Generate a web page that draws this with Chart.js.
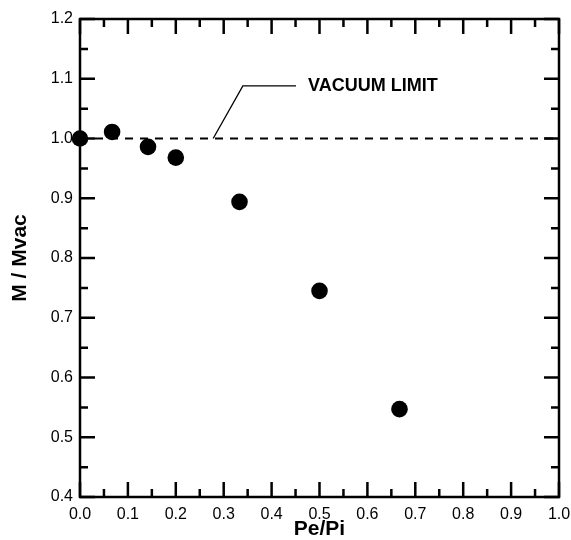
<!DOCTYPE html>
<html>
<head>
<meta charset="utf-8">
<script src="https://cdn.jsdelivr.net/npm/chart.js@4/dist/chart.umd.min.js"></script>
<style>
html,body{margin:0;padding:0;background:#fff;}
#wrap{width:571px;height:540px;}
</style>
</head>
<body>
<div id="wrap"><canvas id="c" width="571" height="540"></canvas></div>
<script>
// ---- data ----
const peOverPi = [0.0, 0.067, 0.142, 0.200, 0.333, 0.500, 0.667];
const mOverMvac = [1.000, 1.011, 0.986, 0.968, 0.894, 0.745, 0.547];
const vacuumLimitX = [0.0, 1.0];
const vacuumLimitY = [1.0, 1.0];
const leaderX = [0.278, 0.340, 0.451];
const leaderY = [1.000, 1.088, 1.088];
const annotationText = "VACUUM LIMIT";
const annotationPos = [0.476, 1.088];
const xTicks = [0.0, 0.1, 0.2, 0.3, 0.4, 0.5, 0.6, 0.7, 0.8, 0.9, 1.0];
const yTicks = [0.4, 0.5, 0.6, 0.7, 0.8, 0.9, 1.0, 1.1, 1.2];
const xMinorTicks = [0.05, 0.15, 0.25, 0.35, 0.45, 0.55, 0.65, 0.75, 0.85, 0.95];
const yMinorTicks = [0.45, 0.55, 0.65, 0.75, 0.85, 0.95, 1.05, 1.15];
const xTitle = "Pe/Pi";
const yTitle = "M / Mvac";

const FONT = "'Liberation Sans', Arial, Helvetica, sans-serif";

const toXY = (xs, ys) => xs.map((x, i) => ({x: x, y: ys[i]}));

const framePlugin = {
  id: 'frame',
  afterDraw(chart) {
    const ctx = chart.ctx;
    const a = chart.chartArea;
    const xs = chart.scales.x, ys = chart.scales.y;
    ctx.save();
    ctx.strokeStyle = '#000';
    ctx.lineWidth = 2.5;
    ctx.lineCap = 'butt';
    const MAJ = 15, MIN = 8;
    ctx.beginPath();
    xTicks.forEach(v => {
      const px = xs.getPixelForValue(v);
      ctx.moveTo(px, a.bottom); ctx.lineTo(px, a.bottom - MAJ);
      ctx.moveTo(px, a.top); ctx.lineTo(px, a.top + MAJ);
    });
    xMinorTicks.forEach(v => {
      const px = xs.getPixelForValue(v);
      ctx.moveTo(px, a.bottom); ctx.lineTo(px, a.bottom - MIN);
      ctx.moveTo(px, a.top); ctx.lineTo(px, a.top + MIN);
    });
    yTicks.forEach(v => {
      const py = ys.getPixelForValue(v);
      ctx.moveTo(a.left, py); ctx.lineTo(a.left + MAJ, py);
      ctx.moveTo(a.right, py); ctx.lineTo(a.right - MAJ, py);
    });
    yMinorTicks.forEach(v => {
      const py = ys.getPixelForValue(v);
      ctx.moveTo(a.left, py); ctx.lineTo(a.left + MIN, py);
      ctx.moveTo(a.right, py); ctx.lineTo(a.right - MIN, py);
    });
    ctx.stroke();
    ctx.strokeRect(a.left, a.top, a.right - a.left, a.bottom - a.top);
    // annotation text
    ctx.fillStyle = '#000';
    ctx.font = "bold 18px " + FONT;
    ctx.textAlign = 'left';
    ctx.textBaseline = 'middle';
    ctx.fillText(annotationText, xs.getPixelForValue(annotationPos[0]), ys.getPixelForValue(annotationPos[1]));
    ctx.restore();
  }
};

new Chart(document.getElementById('c'), {
  type: 'scatter',
  data: {
    datasets: [
      {
        label: 'vacuum limit',
        data: toXY(vacuumLimitX, vacuumLimitY),
        showLine: true,
        borderColor: '#000',
        borderWidth: 2,
        borderDash: [8, 7],
        pointRadius: 0,
        clip: false,
        order: 3
      },
      {
        label: 'leader',
        data: toXY(leaderX, leaderY),
        showLine: true,
        borderColor: '#000',
        borderWidth: 1.3,
        pointRadius: 0,
        tension: 0,
        clip: false,
        order: 2
      },
      {
        label: 'M/Mvac',
        data: toXY(peOverPi, mOverMvac),
        backgroundColor: '#000',
        borderColor: '#000',
        pointRadius: 8.3,
        pointHoverRadius: 8.3,
        borderWidth: 0,
        clip: false,
        order: 1
      }
    ]
  },
  options: {
    responsive: false,
    animation: false,
    events: [],
    layout: { padding: { top: 19, right: 12, left: 0, bottom: 0 } },
    plugins: { legend: { display: false }, tooltip: { enabled: false } },
    scales: {
      x: {
        type: 'linear',
        min: 0, max: 1,
        afterBuildTicks: s => { s.ticks = xTicks.map(v => ({value: v})); },
        afterFit: s => { s.height = 43; s.paddingLeft = 0; s.paddingRight = 0; },
        grid: { display: false, drawTicks: false },
        border: { display: false },
        ticks: {
          color: '#000',
          padding: 8,
          maxRotation: 0,
          font: { family: FONT, size: 16 },
          callback: v => Number(v).toFixed(1)
        },
        title: {
          display: true,
          text: xTitle,
          color: '#000',
          font: { family: FONT, size: 21, weight: 'bold', lineHeight: 1.0 },
          padding: { top: 0, bottom: 0 }
        }
      },
      y: {
        type: 'linear',
        min: 0.4, max: 1.2,
        afterBuildTicks: s => { s.ticks = yTicks.map(v => ({value: v})); },
        afterFit: s => { s.width = 80; s.paddingTop = 0; s.paddingBottom = 0; },
        grid: { display: false, drawTicks: false },
        border: { display: false },
        ticks: {
          color: '#000',
          padding: 7,
          font: { family: FONT, size: 16 },
          callback: v => Number(v).toFixed(1)
        },
        title: {
          display: true,
          text: yTitle,
          color: '#000',
          font: { family: FONT, size: 21, weight: 'bold' },
          padding: { top: 8, bottom: 0 }
        }
      }
    }
  },
  plugins: [framePlugin]
});
</script>
</body>
</html>
